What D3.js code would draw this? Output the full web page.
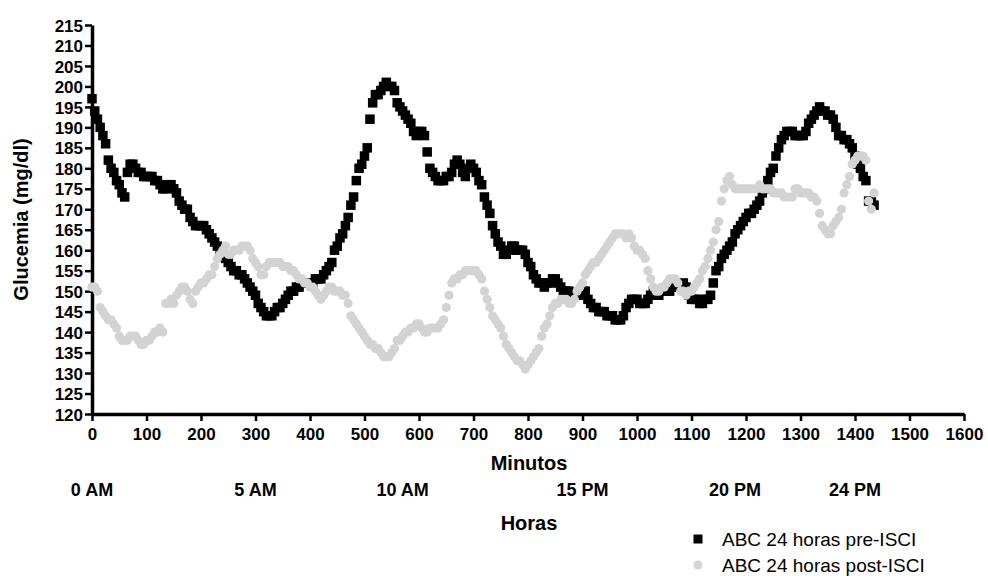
<!DOCTYPE html>
<html>
<head>
<meta charset="utf-8">
<script src="https://cdn.jsdelivr.net/npm/d3@7"></script>
<style>
  body { margin: 0; background: #fff; }
  svg text { font-family: "Liberation Sans", Arial, sans-serif; fill: #000; }
</style>
</head>
<body>
<div id="chart"></div>
<script>
// sampling grid of the CGM monitor: one reading every 5 minutes
const minutos = d3.range(0, 1440, 5);

// ABC 24 horas pre-ISCI (mg/dl)
const preISCI = [
  197, 194, 192, 190, 188, 186, 182, 180, 179, 177,
  176, 174, 173, 179, 181, 181, 180, 179, 179, 178,
  178, 178, 178, 177, 177, 176, 175, 175, 176, 176,
  175, 174, 172, 171, 170, 170, 168, 167, 166, 166,
  166, 166, 165, 164, 163, 162, 161, 160, 159, 158,
  157, 156, 155, 155, 154, 154, 153, 152, 151, 150,
  149, 147, 146, 145, 144, 144, 144, 145, 146, 146,
  147, 148, 149, 150, 150, 151, 151, 152, 152, 152,
  152, 152, 153, 153, 153, 154, 155, 156, 157, 160,
  161, 163, 164, 166, 168, 171, 173, 177, 180, 181,
  183, 185, 192, 196, 198, 198, 199, 200, 201, 200,
  200, 199, 196, 195, 194, 193, 192, 191, 189, 188,
  189, 189, 188, 184, 180, 179, 178, 177, 177, 177,
  178, 178, 179, 181, 182, 181, 179, 178, 180, 181,
  180, 179, 177, 176, 173, 171, 169, 166, 164, 162,
  161, 159, 159, 160, 161, 161, 160, 160, 160, 159,
  157, 156, 154, 153, 152, 152, 151, 152, 152, 153,
  153, 152, 151, 150, 150, 150, 149, 149, 149, 149,
  150, 150, 148, 147, 146, 146, 145, 145, 145, 144,
  144, 144, 143, 143, 143, 144, 146, 147, 148, 148,
  148, 147, 147, 147, 148, 149, 150, 149, 149, 150,
  150, 150, 150, 151, 151, 151, 151, 152, 151, 149,
  148, 148, 148, 147, 147, 148, 148, 149, 152, 155,
  156, 158, 159, 160, 161, 162, 164, 165, 166, 167,
  168, 169, 169, 170, 171, 172, 174, 175, 177, 179,
  180, 183, 185, 187, 188, 189, 189, 189, 188, 188,
  188, 188, 189, 191, 192, 193, 194, 195, 194, 194,
  193, 193, 192, 190, 188, 188, 187, 187, 186, 185,
  183, 181, 180, 178, 177, 172, 172, 171
];

// ABC 24 horas post-ISCI (mg/dl)
const postISCI = [
  151, 151, 150, 146, 145, 144, 143, 143, 142, 141,
  139, 138, 138, 138, 139, 139, 139, 138, 137, 137,
  138, 138, 139, 140, 140, 141, 140, 147, 147, 148,
  147, 149, 150, 151, 151, 150, 148, 147, 150, 151,
  152, 152, 153, 154, 154, 156, 158, 159, 160, 161,
  159, 159, 160, 160, 160, 161, 161, 161, 160, 158,
  157, 156, 154, 154, 156, 157, 157, 157, 157, 157,
  156, 156, 156, 155, 155, 154, 153, 153, 152, 152,
  151, 151, 150, 149, 148, 149, 150, 151, 151, 150,
  150, 150, 149, 149, 147, 144, 143, 142, 141, 140,
  139, 138, 137, 137, 136, 136, 135, 134, 134, 134,
  135, 136, 138, 138, 139, 140, 140, 141, 141, 142,
  142, 141, 140, 140, 141, 141, 141, 141, 142, 143,
  146, 149, 152, 153, 153, 154, 154, 155, 155, 155,
  155, 155, 154, 153, 150, 148, 146, 144, 143, 142,
  141, 139, 137, 136, 135, 134, 133, 133, 132, 131,
  132, 133, 134, 135, 136, 139, 141, 142, 144, 146,
  147, 147, 148, 148, 148, 147, 147, 148, 150, 151,
  152, 154, 155, 156, 157, 157, 158, 159, 160, 161,
  162, 163, 164, 164, 164, 164, 163, 164, 163, 161,
  160, 160, 159, 158, 155, 153, 151, 150, 150, 151,
  151, 152, 153, 153, 153, 152, 150, 150, 149, 150,
  150, 151, 152, 153, 155, 156, 158, 160, 162, 165,
  167, 172, 175, 177, 178, 176, 175, 175, 175, 175,
  175, 175, 175, 175, 175, 176, 175, 175, 175, 175,
  174, 174, 174, 174, 173, 173, 173, 173, 175, 175,
  174, 174, 174, 174, 173, 173, 172, 169, 166, 165,
  164, 164, 166, 167, 168, 170, 174, 176, 178, 181,
  182, 183, 183, 183, 182, 172, 170, 174
];

const yTicks = d3.range(120, 216, 5);
const xTicks = d3.range(0, 1601, 100);
const horas = ["0 AM", "5 AM", "10 AM", "15 PM", "20 PM", "24 PM"];
const horasPos = [0, 300, 570, 900, 1180, 1400]; // minute under which each label sits
const series = ["ABC 24 horas pre-ISCI", "ABC 24 horas post-ISCI"];

const width = 988, height = 576;
const margin = {left: 92, top: 25, right: 24, bottom: 162};

const svg = d3.select('#chart').append('svg')
  .attr('width', width)
  .attr('height', height);

const x = d3.scaleLinear().domain([0, 1600]).range([margin.left, width - margin.right]);
const y = d3.scaleLinear().domain([120, 215]).range([height - margin.bottom, margin.top]);

// axes
const yAxis = svg.append('g')
  .attr('transform', `translate(${margin.left},0)`)
  .call(d3.axisLeft(y).tickValues(yTicks).tickSize(7).tickSizeOuter(0).tickPadding(2));

const xAxis = svg.append('g')
  .attr('transform', `translate(0,${height - margin.bottom})`)
  .call(d3.axisBottom(x).tickValues(xTicks).tickFormat(d3.format('d'))
    .tickSize(7).tickSizeOuter(0).tickPadding(7));

[yAxis, xAxis].forEach(ax => {
  ax.select('.domain').attr('stroke', '#000').attr('stroke-width', 3.5);
  ax.selectAll('.tick line').attr('stroke', '#000').attr('stroke-width', 2.5);
  ax.selectAll('.tick text')
    .style('font-size', '17px')
    .style('font-weight', 'bold')
    .attr('fill', '#000');
});
yAxis.selectAll('.tick text').attr('dy', '0.36em');

// data marks
const pre = minutos.map((m, i) => ({m: m, v: preISCI[i]}));
const post = minutos.map((m, i) => ({m: m, v: postISCI[i]}));
const sq = 9.5;

svg.append('g')
  .selectAll('rect')
  .data(pre)
  .enter()
  .append('rect')
  .attr('x', d => x(d.m) - sq / 2)
  .attr('y', d => y(d.v) - sq / 2)
  .attr('width', sq)
  .attr('height', sq)
  .attr('fill', '#000');

svg.append('g')
  .selectAll('circle')
  .data(post)
  .enter()
  .append('circle')
  .attr('cx', d => x(d.m))
  .attr('cy', d => y(d.v))
  .attr('r', 4.6)
  .attr('fill', '#d3d3d3');

// titles
svg.append('text')
  .attr('transform', `translate(28,${(margin.top + height - margin.bottom) / 2}) rotate(-90)`)
  .attr('text-anchor', 'middle')
  .style('font-size', '20px')
  .style('font-weight', 'bold')
  .text('Glucemia (mg/dl)');

svg.append('text')
  .attr('x', 529)
  .attr('y', 470)
  .attr('text-anchor', 'middle')
  .style('font-size', '20px')
  .style('font-weight', 'bold')
  .text('Minutos');

svg.append('g')
  .selectAll('text')
  .data(horas)
  .enter()
  .append('text')
  .attr('x', (d, i) => x(horasPos[i]))
  .attr('y', 496)
  .attr('text-anchor', 'middle')
  .style('font-size', '18px')
  .style('font-weight', 'bold')
  .text(d => d);

svg.append('text')
  .attr('x', 529)
  .attr('y', 530)
  .attr('text-anchor', 'middle')
  .style('font-size', '20px')
  .style('font-weight', 'bold')
  .text('Horas');

// legend
const legend = svg.append('g').attr('transform', 'translate(698,0)');
const rows = legend.selectAll('g')
  .data(series)
  .enter()
  .append('g')
  .attr('transform', (d, i) => `translate(0,${539 + i * 26})`);

rows.filter((d, i) => i === 0).append('rect')
  .attr('x', -4.5).attr('y', -4.5).attr('width', 9).attr('height', 9)
  .attr('fill', '#000');
rows.filter((d, i) => i === 1).append('circle')
  .attr('r', 4.5)
  .attr('fill', '#d3d3d3');

rows.append('text')
  .attr('x', 24)
  .attr('y', 6.5)
  .style('font-size', '19px')
  .text(d => d);
</script>
</body>
</html>
